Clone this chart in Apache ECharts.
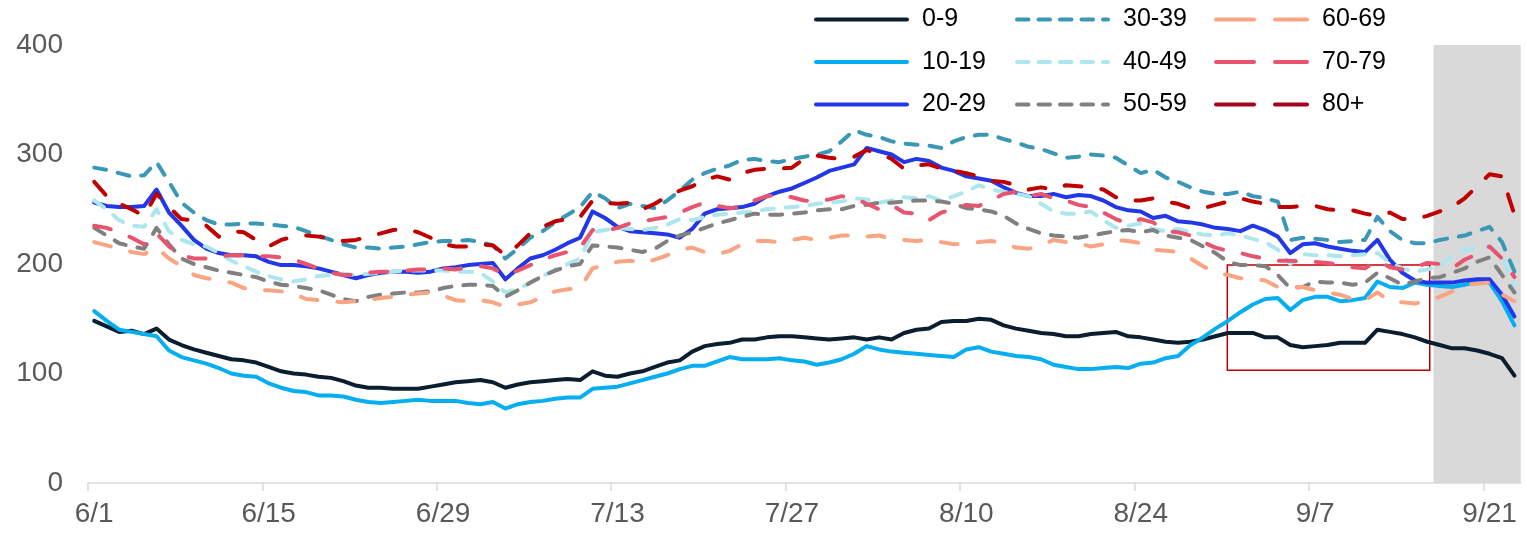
<!DOCTYPE html>
<html>
<head>
<meta charset="utf-8">
<title>Daily cases by age group</title>
<script src="https://cdn.jsdelivr.net/npm/echarts@6/dist/echarts.min.js"></script>
<style>
  html, body { margin: 0; padding: 0; background: #ffffff; }
  #chart { width: 1527px; height: 533px; }
</style>
</head>
<body>
<div id="chart"></div>
<script>
// Daily series, one value per day starting 6/1 (115 days, through 9/23)
const START_MONTH = 6, START_DAY = 1, DAY_COUNT = 115;
const tickLabels = ['6/1', '6/15', '6/29', '7/13', '7/27', '8/10', '8/24', '9/7', '9/21'];
const groups = ['0-9', '10-19', '20-29', '30-39', '40-49', '50-59', '60-69', '70-79', '80+'];

const age0_9 = [
  148,143,138,139,136,141,131,126,122,119,
  116,113,112,110,106,102,100,99,97,96,
  93,89,87,87,86,86,86,88,90,92,
  93,94,92,87,90,92,93,94,95,94,
  102,98,97,100,102,106,110,112,120,125,
  127,128,131,131,133,134,134,133,132,131,
  132,133,131,133,131,137,140,141,147,148,
  148,150,149,144,141,139,137,136,134,134,
  136,137,138,134,133,131,129,128,129,131,
  134,137,137,137,133,133,126,124,125,126,
  128,128,128,140,138,136,133,129,126,123,
  123,121,118,114,98
];
const age10_19 = [
  157,148,140,138,136,134,121,115,112,109,
  105,100,98,97,91,87,84,83,80,80,
  79,76,74,73,74,75,76,75,75,75,
  73,72,74,68,72,74,75,77,78,78,
  86,87,88,91,94,97,100,104,107,107,
  111,115,113,113,113,114,112,111,108,110,
  113,118,125,122,120,119,118,117,116,115,
  122,124,120,118,116,115,113,108,106,104,
  104,105,106,105,109,110,114,116,126,133,
  141,148,156,163,168,169,158,167,170,170,
  166,167,169,184,179,178,183,181,180,179,
  181,184,183,166,144
];
const age20_29 = [
  256,253,252,252,253,268,247,235,222,214,
  210,208,208,207,202,199,199,198,196,193,
  190,187,190,192,193,193,192,193,196,197,
  199,200,201,186,196,205,208,213,219,224,
  248,242,234,230,229,228,227,224,232,246,
  250,251,252,255,262,266,269,274,279,285,
  288,291,306,303,300,293,296,294,288,285,
  280,278,276,270,265,262,262,264,261,263,
  262,258,252,249,248,242,244,239,238,236,
  233,232,230,235,231,225,210,218,219,216,
  214,212,211,222,204,192,185,183,183,183,
  185,186,186,172,152
];
const age30_39 = [
  288,286,283,280,281,293,275,256,247,240,
  236,236,237,237,236,235,234,230,226,222,
  218,215,215,214,215,216,218,220,221,221,
  222,220,217,205,214,224,230,238,245,252,
  266,260,251,255,253,251,258,267,277,283,
  287,290,295,296,294,293,296,298,300,303,
  312,322,318,316,312,310,309,308,306,312,
  316,318,318,314,311,307,305,301,297,298,
  300,299,297,290,283,286,279,275,270,266,
  264,264,266,262,260,257,222,224,223,222,
  220,221,222,243,230,222,219,219,222,224,
  226,230,234,220,193
];
const age40_49 = [
  258,250,240,235,234,250,230,222,218,216,
  210,203,198,193,189,186,184,186,189,190,
  191,190,191,192,193,194,194,194,194,193,
  193,192,184,174,177,183,189,195,200,205,
  229,231,233,232,231,233,236,241,240,243,
  245,246,247,248,250,251,252,253,255,256,
  257,260,259,256,258,261,260,262,258,262,
  266,272,268,266,264,262,255,248,246,246,
  248,240,233,235,237,232,230,232,229,227,
  226,228,226,223,220,213,200,209,208,208,
  207,208,209,210,201,196,193,195,198,207,
  213,215,216,208,179
];
const age50_59 = [
  233,226,219,216,214,233,218,205,200,197,
  194,192,190,188,184,181,180,178,176,172,
  168,166,170,172,173,174,174,175,178,180,
  181,181,180,170,176,183,189,194,198,200,
  217,216,215,213,211,214,221,226,229,233,
  237,240,243,246,245,245,246,247,249,250,
  250,253,254,256,256,257,258,258,257,255,
  251,250,248,244,237,232,228,226,225,224,
  226,228,230,231,229,231,226,224,222,216,
  210,202,199,199,198,190,178,179,184,183,
  183,181,183,192,187,181,184,187,188,192,
  196,202,206,190,174
];
const age60_69 = [
  220,217,214,211,209,215,205,198,190,187,
  185,183,178,176,176,175,173,168,167,166,
  165,166,167,169,170,172,173,174,171,167,
  166,167,165,161,163,165,170,175,177,178,
  196,199,202,203,201,204,208,213,215,211,
  209,212,218,221,221,220,222,224,222,224,
  226,226,225,226,223,222,221,222,220,218,
  219,220,221,219,215,214,217,222,220,219,
  216,218,222,221,219,213,212,211,205,198,
  192,190,187,186,185,179,179,179,176,174,
  172,168,167,174,166,165,164,166,170,175,
  181,182,183,172,166
];
const age70_79 = [
  235,233,229,224,218,228,216,208,205,205,
  207,208,208,207,207,206,204,200,196,192,
  190,190,192,193,193,194,195,195,196,195,
  197,198,196,190,194,199,204,208,211,215,
  231,230,233,237,239,241,243,247,252,256,
  253,251,252,258,262,263,261,258,257,259,
  262,260,255,250,254,247,246,240,247,250,
  254,253,258,264,266,262,264,260,258,254,
  252,247,241,237,241,238,230,229,226,220,
  215,212,210,207,205,203,203,202,202,201,
  199,197,196,203,197,195,197,201,200,196,
  204,209,216,205,188
];
const age80plus = [
  275,262,255,250,244,264,252,241,240,235,
  225,230,229,222,216,222,225,226,225,223,
  221,222,225,228,231,232,229,224,218,216,
  216,218,217,208,217,228,234,239,241,243,
  258,256,255,256,250,255,262,267,271,277,
  280,277,283,286,287,287,288,296,299,297,
  296,298,304,301,296,287,290,291,287,285,
  283,280,276,275,272,268,270,268,272,271,
  270,268,261,258,258,260,257,255,251,251,
  254,257,260,257,255,252,252,253,253,250,
  249,249,246,244,247,241,241,244,248,252,
  260,271,282,280,245
];

const seriesValues = [age0_9, age10_19, age20_29, age30_39, age40_49, age50_59, age60_69, age70_79, age80plus];
const colors = ['#0a1e30', '#05aef0', '#2237e8', '#3a98b6', '#ade6ef', '#808080', '#f9a583', '#e8546f', '#c00000'];
const SOLID = 'solid', SHORT = [12, 12], LONG = [17, 20];
const dashes = [SOLID, SOLID, SOLID, SHORT, SHORT, SHORT, LONG, LONG, LONG];
const legendDashes = [SOLID, SOLID, SOLID, [11.5, 10], [11.5, 10], [11.5, 10], [38, 21], [38, 21], [38, 21]];
const legendColors = { '80+': '#a6001f' };

// Day labels M/D; each day occupies one unit on the x axis, plotted at its centre
const dayLabels = [];
for (let i = 0; i < DAY_COUNT; i++) {
  const d = new Date(Date.UTC(2020, START_MONTH - 1, START_DAY + i));
  dayLabels.push((d.getUTCMonth() + 1) + '/' + d.getUTCDate());
}
const tickDays = tickLabels.map(t => dayLabels.indexOf(t));
const shadedFrom = dayLabels.indexOf('9/17');
const boxFrom = dayLabels.indexOf('8/31') + 0.45, boxTo = dayLabels.indexOf('9/16') + 0.7;

const FONT = '"Liberation Sans", Arial, sans-serif';

const lines = groups.map((g, k) => ({
  type: 'line',
  name: g,
  data: seriesValues[k].map((v, i) => [i + 0.5, v]),
  symbol: 'none',
  smooth: false,
  z: 3,
  itemStyle: { color: colors[k] },
  lineStyle: { color: colors[k], width: 4, type: dashes[k], cap: 'round', join: 'round' },
  emphasis: { disabled: true },
  animation: false
}));

const legendCol = (names, left) => ({
  orient: 'vertical',
  left: left,
  top: 5,
  padding: 0,
  itemWidth: 91,
  itemHeight: 4,
  itemGap: 13.5,
  selectedMode: false,
  itemStyle: { opacity: 0, borderWidth: 0 },
  textStyle: { fontFamily: FONT, fontSize: 25, lineHeight: 25, color: '#000000', padding: [4, 0, 0, 10] },
  data: names.map(n => {
    const k = groups.indexOf(n);
    return {
      name: n,
      lineStyle: { type: legendDashes[k], width: 4, cap: 'round', color: legendColors[n] || colors[k] }
    };
  })
});

const option = {
  backgroundColor: '#ffffff',
  animation: false,
  grid: { left: 88, right: 6.3, top: 45, bottom: 50, containLabel: false },
  legend: [
    legendCol(groups.slice(0, 3), 814),
    legendCol(groups.slice(3, 6), 1015),
    legendCol(groups.slice(6, 9), 1214)
  ],
  xAxis: {
    type: 'value',
    min: 0,
    max: DAY_COUNT,
    splitLine: { show: false },
    axisLine: { show: true, lineStyle: { color: '#d9d9d9', width: 1.5 } },
    axisTick: { show: true, length: 8, lineStyle: { color: '#d9d9d9', width: 1.5 }, customValues: tickDays },
    axisLabel: {
      customValues: tickDays.map(i => i + 0.5),
      formatter: v => dayLabels[Math.floor(v)],
      fontFamily: FONT, fontSize: 28, color: '#595959', margin: 17
    }
  },
  yAxis: {
    type: 'value',
    min: 0,
    max: 400,
    interval: 100,
    splitLine: { show: false },
    axisLine: { show: false },
    axisTick: { show: false },
    axisLabel: { fontFamily: FONT, fontSize: 28, color: '#595959', margin: 25 }
  },
  series: [
    {
      type: 'line',
      data: [],
      z: 1,
      silent: true,
      markArea: {
        silent: true,
        itemStyle: { color: '#d9d9d9' },
        data: [[{ xAxis: shadedFrom, yAxis: 0 }, { xAxis: DAY_COUNT, yAxis: 400 }]]
      }
    },
    ...lines,
    {
      type: 'line',
      data: [],
      z: 5,
      silent: true,
      markArea: {
        silent: true,
        itemStyle: { color: 'rgba(0,0,0,0)', borderColor: '#c00000', borderWidth: 1.5 },
        data: [[{ xAxis: boxFrom, yAxis: 199 }, { xAxis: boxTo, yAxis: 103 }]]
      }
    }
  ]
};

const chart = echarts.init(document.getElementById('chart'), null, { renderer: 'canvas' });
chart.setOption(option);
</script>
</body>
</html>
